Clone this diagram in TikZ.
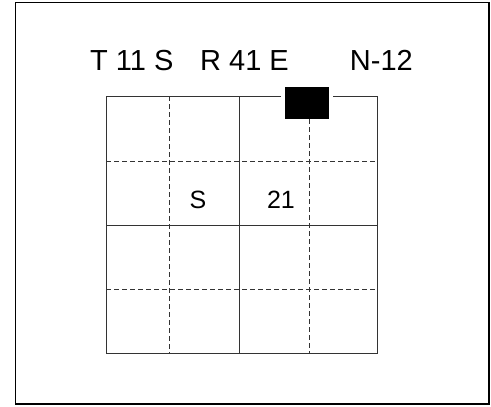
\documentclass[tikz,border=0pt]{standalone}
\usepackage{fontspec}
\setmainfont{Liberation Sans}
\begin{document}
\begin{tikzpicture}[x=1pt,y=-1pt,
  frame/.style={draw=black,line width=1.4pt},
  solidline/.style={draw=black!80,line width=0.9pt},
  dashline/.style={draw=black!80,line width=0.9pt,dash pattern=on 5pt off 3pt},
  title/.style={inner sep=0pt,anchor=base west,font=\fontsize{29}{32}\selectfont},
  celltext/.style={inner sep=0pt,anchor=base,font=\fontsize{25}{28}\selectfont}]
\useasboundingbox (0,0) rectangle (491,407);
\fill[white] (0,0) rectangle (491,407);
% outer frame
\draw[frame] (15.5,2.5) rectangle (489,404);
% title
\node[title] (t1) at (90,70) {T 11 S};
\node[title] (t2) at (200,70) {R 41 E};
\node[title,anchor=base east] (t3) at (413,70) {N-12};
% grid
\coordinate (g00) at (106,96);
\coordinate (g11) at (377,353);
\draw[dashline] (106,161) -- (377,161);
\draw[dashline] (106,289) -- (377,289);
\draw[dashline] (169,96) -- (169,353);
\draw[dashline] (309,119) -- (309,353);
\draw[solidline] (106,225) -- (377,225);
\draw[solidline] (239,96) -- (239,353);
\draw[solidline] (g00) rectangle (g11);
% black square
\fill[white] (281,92) rectangle (333,100);
\node[fill=black,minimum width=44pt,minimum height=32pt,inner sep=0pt,anchor=north west] (sq) at (285,87) {};
% cell texts
\node[celltext] (s) at (198,208) {S};
\node[celltext] (n21) at (281,208) {21};
\end{tikzpicture}
\end{document}
